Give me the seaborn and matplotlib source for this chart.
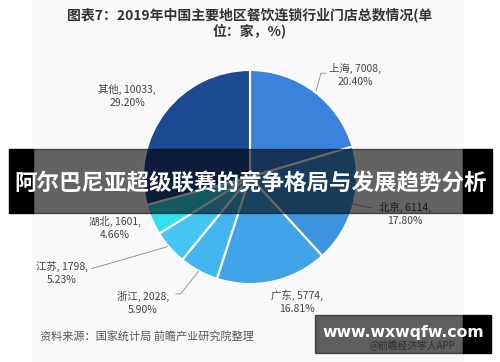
import matplotlib
matplotlib.use("Agg")
from matplotlib import pyplot as plt
from matplotlib.patches import Rectangle
import numpy as np
import seaborn as sns

# data
regions = ["上海", "北京", "广东", "浙江", "江苏", "湖北", "其他"]
stores = [7008, 6114, 5774, 2028, 1798, 1601, 10033]
shares = [20.40, 17.80, 16.81, 5.90, 5.23, 4.66, 29.20]

title = "图表7：2019年中国主要地区餐饮连锁行业门店总数情况(单\n位：家，%)"
source = "资料来源：国家统计局 前瞻产业研究院整理"
banner = "阿尔巴尼亚超级联赛的竞争格局与发展趋势分析"
watermark = "www.wxwqfw.com"

sns.set_theme(style="white")
plt.rcParams['font.family'] = ['Noto Sans CJK SC', 'DejaVu Sans']

colors = ["#3b82dc", "#3d94de", "#41a4e8", "#42b4ee", "#45c6f2", "#33e0ee", "#1c4a91"]

W, H = 500, 362
fig = plt.figure(figsize=(5, 3.62), dpi=100)
fig.patch.set_facecolor("white")
ax = fig.add_axes([0, 0, 1, 1])

def py(y):
    # pixel-from-top to data y
    return H - y

# panel background
ax.add_patch(Rectangle((33, 0), 430, H, color="#f9f9fb", zorder=0))

cx, cy, R = 250, py(177), 107
wedges, _ = ax.pie(shares, colors=colors, startangle=90, counterclock=False,
                   center=(cx, cy), radius=R, normalize=True,
                   wedgeprops=dict(edgecolor="white", linewidth=1.5))
ax.set_xlim(0, W)
ax.set_ylim(0, H)
ax.set_aspect("equal")
ax.axis("off")

# label offsets from wedge edge midpoint (pixels, y up)
label_off = [(41, 16), (52, -8.5), (24, -20), (-56, -32), (-108, -25), (-37, -8), (-38, 16)]
# leader lines (relative to edge point), None = no line
leaders = [[(2, 0), (7, 18), (12, 18)],
           [(-2, 2), (19, -2.5)],
           None,
           [(0, 0), (-18, -23), (-23, -23)],
           [(-2, 1), (-78, -21)],
           None, None]

for w, name, n, s, off, ld in zip(wedges, regions, stores, shares, label_off, leaders):
    mid = np.deg2rad((w.theta1 + w.theta2) / 2)
    ex, ey = cx + R * np.cos(mid), cy + R * np.sin(mid)
    ax.text(ex + off[0], ey + off[1], f"{name}, {n},\n{s:.2f}%",
            ha="center", va="center", fontsize=7.5, color="#444444",
            linespacing=1.4, zorder=5)
    if ld:
        xs = [ex + p[0] for p in ld]
        ys = [ey + p[1] for p in ld]
        ax.plot(xs, ys, color="#8a8a8a", lw=0.6, zorder=4)

ax.text(250, py(23), title, ha="center", va="center", fontsize=10,
        fontweight="bold", color="#333333", linespacing=1.05)
ax.text(40, py(336), source, ha="left", va="center", fontsize=8, color="#555555")
ax.text(412, py(346), "@前瞻经济学人APP", ha="center", va="center",
        fontsize=7, color="#777777")

# banner overlay
ax.add_patch(Rectangle((33, py(213)), 430, 64, color="black", alpha=0.6, zorder=6))
ax.add_patch(Rectangle((9, py(213)), 24, 64, color="black", zorder=6))
ax.add_patch(Rectangle((463, py(213)), 29, 64, color="black", zorder=6))
ax.text(250.5, py(184), banner, ha="center", va="center", fontsize=16.2,
        fontweight="bold", color="white", zorder=7)

# watermark box
ax.add_patch(Rectangle((315, py(353)), 148, 38, color="black", alpha=0.62, zorder=6))
ax.add_patch(Rectangle((463, py(353)), 28, 38, color="black", zorder=6))
ax.text(403, py(332), watermark, ha="center", va="center", fontsize=11.3,
        fontweight="bold", color="white", zorder=7, family="DejaVu Sans")

fig.savefig("out.png", dpi=100, facecolor="white")
